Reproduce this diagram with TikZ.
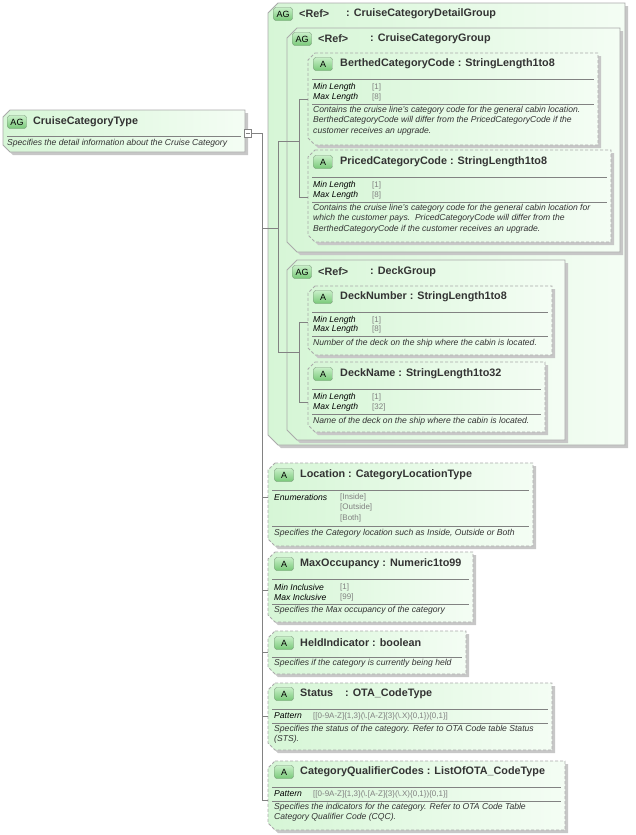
\documentclass[tikz,border=0pt]{standalone}
\usepackage{fontspec}
\setmainfont{Liberation Sans}
\definecolor{gA}{RGB}{214,246,214}
\definecolor{gB}{RGB}{244,253,244}
\definecolor{bd}{RGB}{170,170,170}
\definecolor{bdg}{RGB}{120,150,120}
\definecolor{ln}{RGB}{130,130,130}
\definecolor{badgeA}{RGB}{200,240,200}
\definecolor{badgeB}{RGB}{120,200,120}
\newcommand\tbox[6]{%
 \fill[black!22] ({#1+#5+3},{#2+3}) -- ({#3+3},{#2+3}) -- ({#3+3},{#4+3}) -- ({#1+#5+3},{#4+3}) -- ({#1+3},{#4-#5+3}) -- ({#1+3},{#2+#5+3}) -- cycle;
 \draw[left color=gA,right color=gB,#6] ({#1+#5},#2) -- (#3,#2) -- (#3,#4) -- ({#1+#5},#4) -- (#1,{#4-#5}) -- (#1,{#2+#5}) -- cycle;}
\newcommand\sep[3]{\draw[ln,line width=0.6] ({#1+4},#3) -- ({#2-4},#3);}
\tikzset{
 x=1pt,y=-1pt,
 badge/.style={draw=bdg,top color=badgeA,bottom color=badgeB,rounded corners=2.5,font=\fontsize{9}{10}\selectfont,inner xsep=3,inner ysep=1.5,minimum height=13,minimum width=19},
 ttl/.style={anchor=west,inner sep=0,font=\fontsize{10.8}{12}\selectfont\bfseries,text=black!80},
 fac/.style={anchor=west,inner sep=0,font=\fontsize{8.6}{10}\selectfont\itshape},
 val/.style={anchor=west,inner sep=0,font=\fontsize{8}{10}\selectfont,text=black!50},
 dsc/.style={anchor=north west,inner sep=0,align=left,font=\fontsize{8.6}{10.4}\selectfont\itshape,text=black!80},
 con/.style={draw=ln,line width=0.6},
 dsh/.style={draw=bd,dashed,dash pattern=on 3pt off 2pt,line width=0.8},
 sld/.style={draw=bd,line width=0.8}
}
\begin{document}
\begin{tikzpicture}
\useasboundingbox (0,0) rectangle (636,835);
% main type
\tbox{3}{110}{245}{152}{7}{sld}
\node[badge] (bCCT) at (17,122) {AG};
\node[ttl] (tCCT) at (33,122) {CruiseCategoryType};
\sep{3}{245}{136}
\node[dsc] (dCCT) at (7,139) {Specifies the detail information about the Cruise Category};
\draw[ln,fill=white] (244,129) rectangle (251,137);
\draw[ln] (245.5,133) -- (249.5,133);
\coordinate (minus) at (251,133);
% outer group
\tbox{268}{3}{625}{445}{10}{sld}
\node[badge] (bOG) at (283,14) {AG};
\node[ttl] (rOG) at (299,14) {<Ref>};
\node[ttl] (tOG) at (346,14) {: CruiseCategoryDetailGroup};
% cruise category group
\tbox{287}{28}{620}{252}{10}{sld}
\node[badge] (bCG) at (302,39) {AG};
\node[ttl] (rCG) at (318,39) {<Ref>};
\node[ttl] (tCG) at (370,39) {: CruiseCategoryGroup};
% Berthed
\tbox{308}{53}{598}{145}{7}{dsh}
\node[badge] (bBC) at (323,64) {A};
\node[ttl] (tBC) at (340,64) {BerthedCategoryCode : StringLength1to8};
\sep{308}{598}{79}
\node[fac] (f1) at (313,87) {Min Length}; \node[val] (v1) at (372,87) {[1]};
\node[fac] (f2) at (313,97) {Max Length}; \node[val] (v2) at (372,97) {[8]};
\sep{308}{598}{104}
\node[dsc] (dBC) at (313,106) {Contains the cruise line's category code for the general cabin location.\\BerthedCategoryCode will differ from the PricedCategoryCode if the\\customer receives an upgrade.};
% Priced
\tbox{308}{150}{611}{242}{7}{dsh}
\node[badge] (bPC) at (323,162) {A};
\node[ttl] (tPC) at (340,162) {PricedCategoryCode : StringLength1to8};
\sep{308}{611}{177}
\node[fac] (f3) at (313,185) {Min Length}; \node[val] (v3) at (372,185) {[1]};
\node[fac] (f4) at (313,195) {Max Length}; \node[val] (v4) at (372,195) {[8]};
\sep{308}{611}{202}
\node[dsc] (dPC) at (313,204) {Contains the cruise line's category code for the general cabin location for\\which the customer pays.\ \ PricedCategoryCode will differ from the\\BerthedCategoryCode if the customer receives an upgrade.};
% Deck group
\tbox{287}{260}{565}{440}{10}{sld}
\node[badge] (bDG) at (302,272) {AG};
\node[ttl] (rDG) at (318,272) {<Ref>};
\node[ttl] (tDG) at (370,272) {: DeckGroup};
% DeckNumber
\tbox{308}{286}{552}{355}{7}{dsh}
\node[badge] (bDN) at (323,297) {A};
\node[ttl] (tDN) at (340,297) {DeckNumber : StringLength1to8};
\sep{308}{552}{312}
\node[fac] (f5) at (313,320) {Min Length}; \node[val] (v5) at (372,320) {[1]};
\node[fac] (f6) at (313,329) {Max Length}; \node[val] (v6) at (372,329) {[8]};
\sep{308}{552}{336}
\node[dsc] (dDN) at (313,339) {Number of the deck on the ship where the cabin is located.};
% DeckName
\tbox{308}{362}{545}{432}{7}{dsh}
\node[badge] (bDM) at (323,374) {A};
\node[ttl] (tDM) at (340,374) {DeckName : StringLength1to32};
\sep{308}{545}{389}
\node[fac] (f7) at (313,397) {Min Length}; \node[val] (v7) at (372,397) {[1]};
\node[fac] (f8) at (313,407) {Max Length}; \node[val] (v8) at (372,407) {[32]};
\sep{308}{545}{414}
\node[dsc] (dDM) at (313,417) {Name of the deck on the ship where the cabin is located.};
% Location
\tbox{268}{463}{533}{546}{7}{dsh}
\node[badge] (bLo) at (284,475) {A};
\node[ttl] (tLo) at (300,475) {Location : CategoryLocationType};
\sep{268}{533}{490}
\node[fac] (f9) at (274,497) {Enumerations};
\node[val] (v9a) at (340,497) {[Inside]};
\node[val] (v9b) at (340,507) {[Outside]};
\node[val] (v9c) at (340,518) {[Both]};
\sep{268}{533}{526}
\node[dsc] (dLo) at (274,529) {Specifies the Category location such as Inside, Outside or Both};
% MaxOccupancy
\tbox{268}{552}{473}{622}{7}{dsh}
\node[badge] (bMO) at (284,564) {A};
\node[ttl] (tMO) at (300,564) {MaxOccupancy : Numeric1to99};
\sep{268}{473}{579}
\node[fac] (f10) at (274,587) {Min Inclusive}; \node[val] (v10) at (340,587) {[1]};
\node[fac] (f11) at (274,597) {Max Inclusive}; \node[val] (v11) at (340,597) {[99]};
\sep{268}{473}{604}
\node[dsc] (dMO) at (274,606) {Specifies the Max occupancy of the category};
% HeldIndicator
\tbox{268}{631}{466}{674}{7}{dsh}
\node[badge] (bHI) at (284,643) {A};
\node[ttl] (tHI) at (300,643) {HeldIndicator : boolean};
\sep{268}{466}{657}
\node[dsc] (dHI) at (274,659) {Specifies if the category is currently being held};
% Status
\tbox{268}{683}{552}{750}{7}{dsh}
\node[badge] (bSt) at (284,694) {A};
\node[ttl] (tSt) at (300,694) {Status\ \ \ \ : OTA\_CodeType};
\sep{268}{552}{709}
\node[fac] (f12) at (274,716) {Pattern};
\node[val] (v12) at (313,716) {[[0-9A-Z]\{1,3\}(\textbackslash.[A-Z]\{3\}(\textbackslash.X)\{0,1\})\{0,1\}]};
\sep{268}{552}{723}
\node[dsc] (dSt) at (274,725) {Specifies the status of the category. Refer to OTA Code table Status\\(STS).};
% CQC
\tbox{268}{761}{565}{830}{7}{dsh}
\node[badge] (bCQ) at (284,772) {A};
\node[ttl] (tCQ) at (300,772) {CategoryQualifierCodes : ListOfOTA\_CodeType};
\sep{268}{565}{787}
\node[fac] (f13) at (274,794) {Pattern};
\node[val] (v13) at (313,794) {[[0-9A-Z]\{1,3\}(\textbackslash.[A-Z]\{3\}(\textbackslash.X)\{0,1\})\{0,1\}]};
\sep{268}{565}{801}
\node[dsc] (dCQ) at (274,803) {Specifies the indicators for the category. Refer to OTA Code Table\\Category Qualifier Code (CQC).};
% connectors
\coordinate (j0) at (262,133);
\draw[con] (minus) -- (j0) -- (262,800) -- (268,800);
\draw[con] (262,228) -- (278,228);
\draw[con] (278,141) -- (278,352);
\draw[con] (278,141) -- (299,141);
\draw[con] (278,352) -- (299,352);
\draw[con] (299,99) -- (308,99); \draw[con] (299,99) -- (299,197) -- (308,197);
\draw[con] (299,322) -- (308,322); \draw[con] (299,322) -- (299,402) -- (308,402);
\draw[con] (262,497) -- (268,497);
\draw[con] (262,590) -- (268,590);
\draw[con] (262,652) -- (268,652);
\draw[con] (262,716) -- (268,716);
\end{tikzpicture}
\end{document}
